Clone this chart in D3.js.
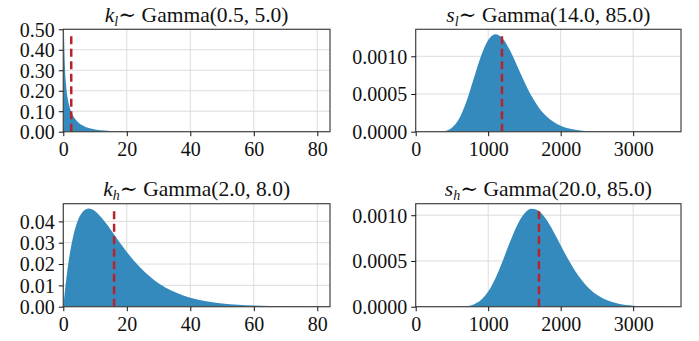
<!DOCTYPE html>
<html>
<head>
<meta charset="utf-8">
<script src="https://cdn.jsdelivr.net/npm/d3@7"></script>
<style>
  body { margin: 0; background: #fff; }
  svg text { font-family: "Liberation Serif", "Times New Roman", Times, "DejaVu Serif", serif !important; fill: #111; }
</style>
</head>
<body>
<script>
// density curves
var klX = [0.02, 0.05, 0.1, 0.2, 0.3, 0.5, 0.75, 1, 1.5, 2, 2.5, 3, 4, 5, 6, 7, 8, 10, 12, 14, 16, 18, 20, 25, 30, 40, 50, 84];
var klY = [1.777, 1.117, 0.782, 0.542, 0.434, 0.323, 0.251, 0.2066, 0.1526, 0.1196, 0.0968, 0.0799, 0.0567, 0.0415, 0.0310, 0.0235, 0.0180, 0.0108, 0.0066, 0.0041, 0.0026, 0.0016, 0.0010, 0.00034, 0.00011, 0.00001, 0, 0];

var slX = [0, 300, 400, 500, 600, 700, 800, 900, 1000, 1100, 1200, 1300, 1400, 1500, 1600, 1700, 1800, 2000, 2200, 2400, 2600, 3000, 3660];
var slY = [0, 0.0000007, 0.0000095, 0.0000532, 0.0001755, 0.0004014, 0.0007023, 0.0010013, 0.0012149, 0.0012934, 0.001236, 0.0010789, 0.000872, 0.0006593, 0.0004705, 0.000319, 0.0002068, 0.0000774, 0.0000254, 0.0000075, 0.000002, 0.0000001, 0];

var khX = [0, 1, 2, 3, 4, 6, 8, 10, 12, 14, 16, 18, 20, 24, 28, 32, 36, 40, 45, 50, 55, 60, 70, 84];
var khY = [0, 0.01379, 0.02434, 0.03222, 0.03791, 0.04428, 0.04598, 0.04477, 0.04184, 0.03801, 0.03383, 0.02964, 0.02565, 0.01867, 0.01321, 0.00916, 0.00625, 0.00421, 0.00254, 0.00151, 0.00089, 0.00052, 0.00017, 0.00004];

var shX = [0, 500, 700, 800, 900, 1000, 1100, 1200, 1300, 1400, 1500, 1600, 1700, 1800, 1900, 2000, 2100, 2200, 2400, 2600, 2800, 3000, 3200, 3660];
var shY = [0, 0.0000001, 0.0000064, 0.000025, 0.0000722, 0.0001649, 0.0003109, 0.0005007, 0.0007067, 0.0008909, 0.0010191, 0.0010712, 0.0010452, 0.0009548, 0.0008225, 0.0006721, 0.0005237, 0.000391, 0.0001942, 0.0000845, 0.0000328, 0.0000116, 0.0000038, 0];

// dashed marker: position (mean) and height
var meanX = [2.5, 1190, 16, 1700];
var meanTop = [0.476, 0.001293, 0.04598, 0.001072];

var titles = [
  ["k", "l", "Gamma(0.5, 5.0)"],
  ["s", "l", "Gamma(14.0, 85.0)"],
  ["k", "h", "Gamma(2.0, 8.0)"],
  ["s", "h", "Gamma(20.0, 85.0)"]
];
var xMax = [84, 3660, 84, 3660];
var yMax = [0.5, 0.001358, 0.04828, 0.001126];
var xTicks = [[0, 20, 40, 60, 80], [0, 1000, 2000, 3000], [0, 20, 40, 60, 80], [0, 1000, 2000, 3000]];
var yTicks = [[0, 0.1, 0.2, 0.3, 0.4, 0.5], [0, 0.0005, 0.001], [0, 0.01, 0.02, 0.03, 0.04], [0, 0.0005, 0.001]];
var yFmt = [".2f", ".4f", ".2f", ".4f"];

var series = [[klX, klY], [slX, slY], [khX, khY], [shX, shY]];

var W = 699, H = 341;
var boxes = [
  {x0: 63.3, x1: 330, y0: 29.3, y1: 131.7},
  {x0: 415.7, x1: 681, y0: 29.3, y1: 131.7},
  {x0: 63.3, x1: 330, y0: 203.7, y1: 306.7},
  {x0: 415.7, x1: 681, y0: 203.7, y1: 306.7}
];

var svg = d3.select("body").append("svg").attr("width", W).attr("height", H);

boxes.forEach(function(b, i) {
  var x = d3.scaleLinear().domain([0, xMax[i]]).range([b.x0, b.x1]);
  var y = d3.scaleLinear().domain([0, yMax[i]]).range([b.y1, b.y0]);
  var g = svg.append("g");

  // grid
  g.selectAll(".gx").data(xTicks[i]).enter().append("line")
    .attr("x1", d => x(d)).attr("x2", d => x(d))
    .attr("y1", b.y0).attr("y2", b.y1)
    .attr("stroke", "#dcdcdc").attr("stroke-width", 1);
  g.selectAll(".gy").data(yTicks[i]).enter().append("line")
    .attr("x1", b.x0).attr("x2", b.x1)
    .attr("y1", d => y(d)).attr("y2", d => y(d))
    .attr("stroke", "#dcdcdc").attr("stroke-width", 1);

  var clipId = "clip" + i;
  svg.append("clipPath").attr("id", clipId).append("rect")
    .attr("x", b.x0).attr("y", b.y0).attr("width", b.x1 - b.x0).attr("height", b.y1 - b.y0);

  var pts = series[i][0].map((v, j) => [v, series[i][1][j]]);
  var area = d3.area().curve(d3.curveMonotoneX)
    .x(d => x(d[0])).y0(y(0)).y1(d => y(d[1]));
  g.append("path").datum(pts)
    .attr("clip-path", "url(#" + clipId + ")")
    .attr("d", area)
    .attr("fill", "#348ABD");

  g.append("line")
    .attr("x1", x(meanX[i])).attr("x2", x(meanX[i]))
    .attr("y1", y(0)).attr("y2", y(meanTop[i]))
    .attr("stroke", "#b8222c").attr("stroke-width", 2.5)
    .attr("stroke-dasharray", "8,4.5");

  // frame
  g.append("rect")
    .attr("x", b.x0).attr("y", b.y0).attr("width", b.x1 - b.x0).attr("height", b.y1 - b.y0)
    .attr("fill", "none").attr("stroke", "#444").attr("stroke-width", 1.2);

  var xa = svg.append("g").attr("transform", "translate(0," + b.y1 + ")")
    .call(d3.axisBottom(x).tickValues(xTicks[i]).tickFormat(d3.format("d")).tickSize(4.5).tickPadding(4));
  var ya = svg.append("g").attr("transform", "translate(" + b.x0 + ",0)")
    .call(d3.axisLeft(y).tickValues(yTicks[i]).tickFormat(d3.format(yFmt[i])).tickSize(4.5).tickPadding(4));
  [xa, ya].forEach(function(a) {
    a.attr("font-family", null);
    a.select(".domain").remove();
    a.selectAll(".tick line").attr("stroke", "#111").attr("stroke-width", 1);
    a.selectAll(".tick text").attr("font-size", 20).attr("fill", "#111");
  });
  xa.selectAll(".tick text").attr("dy", null).attr("y", 24);
  ya.selectAll(".tick text").attr("dy", "0.34em");

  var t = svg.append("text")
    .attr("x", (b.x0 + b.x1) / 2).attr("y", b.y0 - 7.5)
    .attr("text-anchor", "middle").attr("font-size", 21.5);
  t.append("tspan").attr("font-style", "italic").text(titles[i][0]);
  t.append("tspan").attr("font-style", "italic").attr("font-size", 14).attr("dy", 4).text(titles[i][1]);
  t.append("tspan").attr("dy", -4).text("\u223C ");
  t.append("tspan").text(titles[i][2]);
});
</script>
</body>
</html>
